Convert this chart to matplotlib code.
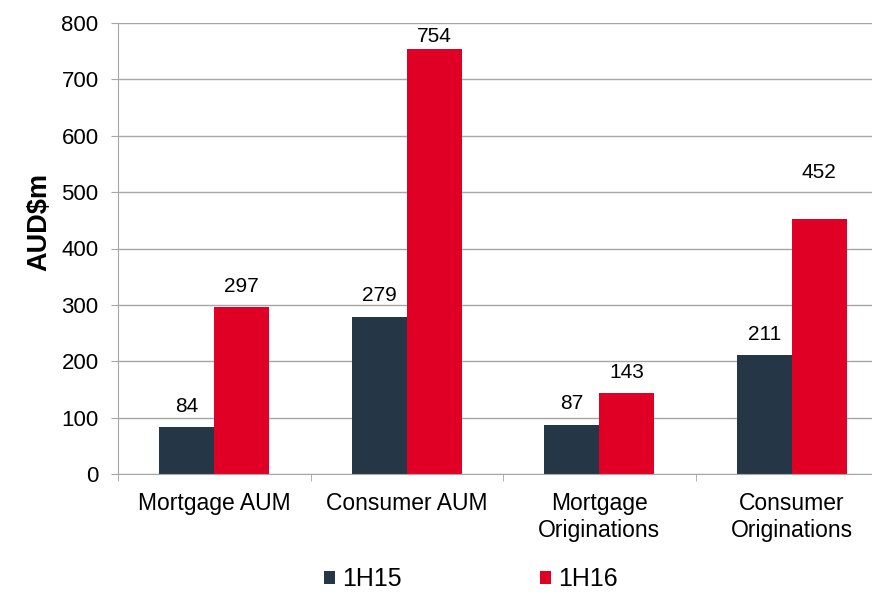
import matplotlib.pyplot as plt
import numpy as np

plt.rcParams['font.family'] = ['Liberation Sans', 'DejaVu Sans']

categories = ['Mortgage AUM', 'Consumer AUM', 'Mortgage\nOriginations', 'Consumer\nOriginations']
series_names = ['1H15', '1H16']
values_1h15 = [84, 279, 87, 211]
values_1h16 = [297, 754, 143, 452]
y_ticks = [0, 100, 200, 300, 400, 500, 600, 700, 800]

colors = ['#253746', '#E00025']
grid_col = '#A6A6A6'
# label gap above each bar, in pixels (hand-placed in the original)
label_gap_1h15 = [20, 21, 21, 21]
label_gap_1h16 = [20, 12, 21, 47]

fig = plt.figure(figsize=(8.72, 5.96), dpi=100)
ax = fig.add_axes([118 / 872, 1 - 474 / 596, 770 / 872, 451 / 596])

x = np.arange(len(categories))
w = 0.286
b1 = ax.bar(x - w / 2, values_1h15, w, color=colors[0], label=series_names[0], zorder=3)
b2 = ax.bar(x + w / 2, values_1h16, w, color=colors[1], label=series_names[1], zorder=3)

for bars, vals, gaps in [(b1, values_1h15, label_gap_1h15), (b2, values_1h16, label_gap_1h16)]:
    for r, v, g in zip(bars, vals, gaps):
        ax.annotate(str(v), (r.get_x() + r.get_width() / 2, v),
                    xytext=(0, g * 0.72), textcoords='offset points',
                    ha='center', va='center', fontsize=15, color='black')

ax.set_xlim(-0.5, 3.5)
ax.set_ylim(0, 800)
ax.set_yticks(y_ticks)
ax.yaxis.grid(True, color=grid_col, lw=1, zorder=0)
ax.tick_params(axis='y', length=5, color=grid_col, labelsize=16, pad=9)

ax.set_xticks(x)
ax.set_xticklabels(categories, fontsize=16.5, linespacing=1.22)
ax.tick_params(axis='x', which='major', length=0, pad=13)
ax.set_xticks(np.arange(len(categories) + 1) - 0.5, minor=True)
ax.tick_params(axis='x', which='minor', length=5, color=grid_col)

for s in ['top', 'right']:
    ax.spines[s].set_visible(False)
for s in ['left', 'bottom']:
    ax.spines[s].set_color(grid_col)
    ax.spines[s].set_zorder(4)

fig.text(39 / 872, 1 - 222 / 596, 'AUD$m', rotation=90, fontsize=19.5,
         fontweight='bold', ha='center', va='center')

fig.legend(handles=[b1, b2], labels=series_names, loc='center',
           bbox_to_anchor=(0.54, 0.028), ncol=2, frameon=False, fontsize=18,
           handlelength=0.45, handleheight=0.45, handletextpad=0.3,
           columnspacing=5.5, borderpad=0.1)

fig.savefig('out.png', dpi=100)
